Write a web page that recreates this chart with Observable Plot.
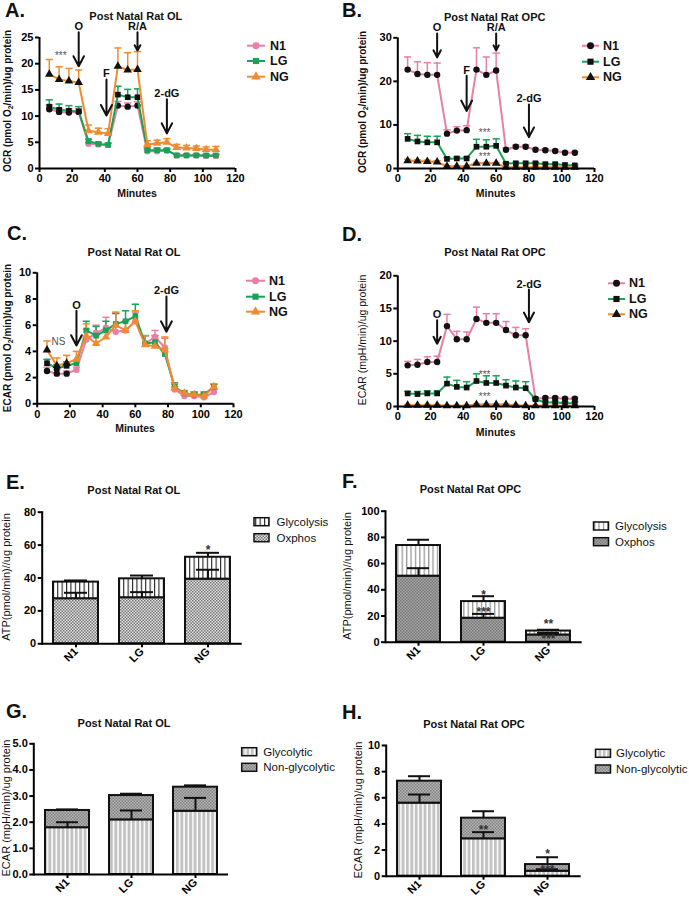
<!DOCTYPE html>
<html><head><meta charset="utf-8">
<script src="https://cdn.jsdelivr.net/npm/d3@7"></script>
<script src="https://cdn.jsdelivr.net/npm/@observablehq/plot@0.6"></script>
<style>
body{margin:0;background:#fff;}
#fig{position:relative;width:689px;height:901px;overflow:hidden;background:#fff;}
</style></head>
<body><div id="fig"></div>
<script>
// ---------- data ----------
const minutes = [6,12,18,24,30,36,42,48,54,60,66,72,78,84,90,96,102,108];
const groups = ["N1","LG","NG"];
const groupColors = ["#e77fa7","#1aa259","#f28b30"];
const groupSymbols = ["circle","square","triangle"];

// A. OCR, post natal rat OL
const ocrOL_N1 = [11.3,10.8,10.7,10.8,4.7,4.6,4.5,12.0,11.8,12.0,3.3,3.3,3.4,2.5,2.5,2.5,2.4,2.4];
const ocrOL_N1_sem = [0.8,0.7,0.7,0.6,0.3,0.3,0.3,0.8,0.7,0.7,0.3,0.3,0.3,0.2,0.2,0.2,0.2,0.2];
const ocrOL_LG = [11.8,11.2,11.0,10.9,5.2,4.7,4.5,14.1,13.6,13.6,3.5,3.5,3.5,2.5,2.5,2.5,2.5,2.5];
const ocrOL_LG_sem = [1.3,1.1,1.0,0.9,0.4,0.3,0.3,1.6,1.5,1.6,0.4,0.4,0.3,0.2,0.2,0.2,0.2,0.2];
const ocrOL_NG = [18.0,17.0,16.7,16.4,7.2,6.9,6.7,19.5,18.8,18.9,4.6,4.8,5.0,4.0,3.9,3.8,3.6,3.6];
const ocrOL_NG_sem = [2.8,2.4,2.4,2.4,1.1,0.8,0.9,3.5,3.3,3.4,0.7,0.6,0.7,0.6,0.5,0.5,0.5,0.6];

// B. OCR, post natal rat OPC
const ocrOPC_N1 = [22.7,21.7,21.5,21.5,8.0,8.7,8.8,22.7,21.5,22.5,4.3,5.0,5.0,4.3,4.2,4.0,3.6,3.6];
const ocrOPC_N1_sem = [2.9,2.8,2.8,2.7,0.9,0.9,1.0,5.0,4.1,4.0,0.4,0.4,0.4,0.3,0.3,0.3,0.3,0.3];
const ocrOPC_LG = [6.8,6.2,6.0,6.0,2.2,2.3,2.3,5.0,5.0,5.2,1.1,1.2,1.2,1.2,1.0,1.0,0.8,0.7];
const ocrOPC_LG_sem = [1.2,1.4,1.4,1.4,0.3,0.3,0.3,1.7,1.6,1.6,0.2,0.2,0.2,0.2,0.2,0.2,0.1,0.1];
const ocrOPC_NG = [1.8,1.7,1.6,1.5,0.5,0.5,0.5,1.2,1.2,1.2,0.3,0.3,0.3,0.3,0.3,0.3,0.3,0.3];
const ocrOPC_NG_sem = [0.3,0.3,0.3,0.3,0.1,0.1,0.1,0.2,0.2,0.2,0.1,0.1,0.1,0.1,0.1,0.1,0.1,0.1];

// C. ECAR, post natal rat OL
const ecarOLt_N1 = [2.5,2.3,2.3,2.6,4.9,5.4,5.8,5.5,5.6,6.3,4.6,5.1,4.3,1.1,0.6,0.6,0.5,0.9];
const ecarOLt_N1_sem = [0.3,0.3,0.2,0.2,0.8,0.6,0.8,1.4,0.7,0.7,0.6,0.5,0.7,0.2,0.2,0.2,0.2,0.2];
const ecarOLt_LG = [3.1,2.7,2.9,3.1,5.6,5.2,5.6,6.1,6.3,6.7,4.6,4.7,3.8,1.3,0.8,0.7,0.7,1.3];
const ecarOLt_LG_sem = [0.3,0.3,0.3,0.2,0.7,0.7,0.7,0.8,0.8,0.9,0.6,0.5,0.4,0.3,0.2,0.2,0.2,0.2];
const ecarOLt_NG = [4.1,2.9,3.1,3.4,5.2,4.6,5.1,6.0,5.6,6.3,4.5,4.4,4.1,1.2,0.8,0.7,0.6,1.3];
const ecarOLt_NG_sem = [0.7,0.6,0.6,0.6,0.9,0.6,0.5,1.0,0.7,0.8,0.7,0.6,1.0,0.3,0.2,0.2,0.2,0.2];

// D. ECAR, post natal rat OPC
const ecarOPCt_N1 = [6.3,6.4,6.8,6.8,12.3,10.3,10.3,13.4,12.8,12.8,11.7,10.9,10.9,1.2,1.3,1.3,1.2,1.2];
const ecarOPCt_N1_sem = [0.6,0.8,0.8,0.9,1.8,1.2,1.1,1.8,1.4,1.4,1.3,1.2,1.0,0.2,0.2,0.2,0.2,0.2];
const ecarOPCt_LG = [2.0,1.9,2.0,2.0,3.5,3.0,2.9,3.9,3.6,3.6,3.2,2.9,2.8,1.1,0.6,0.6,0.5,0.5];
const ecarOPCt_LG_sem = [0.3,0.4,0.4,0.4,1.0,1.0,0.9,1.1,1.1,1.1,0.9,1.0,1.0,0.2,0.2,0.2,0.2,0.2];
const ecarOPCt_NG = [0.2,0.2,0.2,0.2,0.1,0.1,0.1,0.3,0.3,0.3,0.3,0.2,0.1,0.1,0.1,0.1,0.1,0.1];
const ecarOPCt_NG_sem = [0.1,0.1,0.1,0.1,0.1,0.1,0.1,0.1,0.1,0.1,0.1,0.1,0.1,0.1,0.1,0.1,0.1,0.1];

// injections (label, minute, arrow start, arrow tip)
const injA = [{label:"O",x:24,y1:26,y2:19.5},{label:"F",x:41,y1:17,y2:10.1},{label:"R/A",x:60,y1:26,y2:22.5},{label:"2-dG",x:78,y1:13.2,y2:6.7}];
const injB = [{label:"O",x:24,y1:31,y2:25.5},{label:"F",x:42,y1:21.3,y2:13.2},{label:"R/A",x:60,y1:31,y2:27.1},{label:"2-dG",x:80,y1:14.7,y2:7.2}];
const injC = [{label:"O",x:24,y1:7.1,y2:4.45},{label:"2-dG",x:79,y1:8.2,y2:5.5}];
const injD = [{label:"O",x:24,y1:13.2,y2:9.6},{label:"2-dG",x:80,y1:17.9,y2:12.9}];

const notesA = [{x:13,y:21.6,text:"***"}];
const notesB = [{x:53,y:8.2,text:"***"},{x:53,y:2.8,text:"***"}];
const notesC = [{x:13,y:4.75,text:"NS"}];
const notesD = [{x:53,y:4.9,text:"***"},{x:53,y:1.5,text:"***"}];

// E. ATP, OL
const atpOL_oxphos = [27.4,28.0,39.3];
const atpOL_oxphos_sem = [3.6,3.4,5.7];
const atpOL_glycolysis = [10.1,11.5,13.3];
const atpOL_glycolysis_sem = [1.0,2.0,2.7];
// F. ATP, OPC
const atpOPC_oxphos = [50.4,18.3,5.5];
const atpOPC_oxphos_sem = [6.1,3.3,1.5];
const atpOPC_glycolysis = [23.4,12.7,3.0];
const atpOPC_glycolysis_sem = [4.4,4.1,1.0];
// G. ECAR, OL
const ecarOL_glycolytic = [1.79,2.09,2.42];
const ecarOL_glycolytic_sem = [0.21,0.36,0.51];
const ecarOL_nonglycolytic = [0.66,0.93,0.92];
const ecarOL_nonglycolytic_sem = [0.04,0.07,0.07];
// H. ECAR, OPC
const ecarOPC_glycolytic = [5.59,2.86,0.38];
const ecarOPC_glycolytic_sem = [0.66,0.51,0.15];
const ecarOPC_nonglycolytic = [1.68,1.58,0.51];
const ecarOPC_nonglycolytic_sem = [0.38,0.53,0.56];

const notesE = [{g:"NG",y:57,text:"*"}];
const notesF = [{g:"LG",y:35.8,text:"*"},{g:"LG",y:22.6,text:"***"},{g:"NG",y:13.5,text:"**"},{g:"NG",y:2.0,text:"***"}];
const notesG = [];
const notesH = [{g:"LG",y:3.5,text:"**"},{g:"NG",y:1.65,text:"*"},{g:"NG",y:0.45,text:"***"}];

// ---------- drawing ----------
const FONT = '"Liberation Sans", Arial, Helvetica, sans-serif';
const fig = document.getElementById("fig");

// patterns
fig.insertAdjacentHTML("beforeend", `
<svg width="0" height="0" style="position:absolute;left:0;top:0">
<defs>
<pattern id="stripeE" width="4.4" height="10" patternUnits="userSpaceOnUse"><rect width="4.4" height="10" fill="#fff"/><rect width="1.1" height="10" fill="#222"/></pattern>
<pattern id="checkE" width="3" height="3" patternUnits="userSpaceOnUse"><rect width="3" height="3" fill="#e2e2e2"/><rect width="1.5" height="1.5" fill="#777"/><rect x="1.5" y="1.5" width="1.5" height="1.5" fill="#777"/></pattern>
<pattern id="stripeF" width="4.4" height="10" patternUnits="userSpaceOnUse"><rect width="4.4" height="10" fill="#fff"/><rect width="1.3" height="10" fill="#999"/></pattern>
<pattern id="checkF" width="3" height="3" patternUnits="userSpaceOnUse"><rect width="3" height="3" fill="#a4a4a4"/><rect width="1.5" height="1.5" fill="#7a7a7a"/><rect x="1.5" y="1.5" width="1.5" height="1.5" fill="#7a7a7a"/></pattern>
<pattern id="stripeG" width="4.4" height="10" patternUnits="userSpaceOnUse"><rect width="4.4" height="10" fill="#c2c2c2"/><rect x="2.9" width="1.5" height="10" fill="#fff"/></pattern>
<pattern id="checkG" width="3" height="3" patternUnits="userSpaceOnUse"><rect width="3" height="3" fill="#b2b2b2"/><rect width="1.5" height="1.5" fill="#858585"/><rect x="1.5" y="1.5" width="1.5" height="1.5" fill="#858585"/></pattern>
</defs></svg>`);

function mount(node, left, top) {
  const d = document.createElement("div");
  d.style.cssText = `position:absolute;left:${left}px;top:${top}px;`;
  d.appendChild(node);
  fig.appendChild(d);
}
const plotStyle = {fontFamily: FONT, overflow: "visible", background: "transparent"};
const axisText = {fontSize: 11, fontWeight: "bold", tickSize: 4, tickPadding: 2, strokeWidth: 2, label: null};

function linePanel(p) {
  const width = p.fx1 - p.left + 8, height = p.fy1 - p.top + 22;
  const marks = [];
  const rowsOf = s => minutes.map((m, i) => ({x: m, y: s.mean[i], hi: s.mean[i] + s.sem[i], i}));
  p.series.forEach((s, k) => {
    const rows = rowsOf(s);
    marks.push(Plot.ruleX(rows, {x: "x", y1: "y", y2: "hi", stroke: groupColors[k], strokeWidth: 1.5}));
    marks.push(Plot.link(rows, {x1: d => d.x - 2.2, x2: d => d.x + 2.2, y1: "hi", y2: "hi", stroke: groupColors[k], strokeWidth: 1.5}));
  });
  p.series.forEach((s, k) => {
    const rows = rowsOf(s);
    marks.push(Plot.line(rows, {x: "x", y: "y", stroke: groupColors[k], strokeWidth: 2}));
    marks.push(Plot.dot(rows.filter(d => !p.black(d.i)), {x: "x", y: "y", symbol: groupSymbols[k], r: 3.2, fill: groupColors[k]}));
    marks.push(Plot.dot(rows.filter(d => p.black(d.i)), {x: "x", y: "y", symbol: groupSymbols[k], r: 3.2, fill: "#111"}));
  });
  marks.push(
    Plot.arrow(p.inj, {x1: "x", x2: "x", y1: "y1", y2: "y2", stroke: "#111", strokeWidth: 2, headLength: 9, headAngle: 55}),
    Plot.text(p.inj, {x: "x", y: "y1", text: "label", dy: -2, lineAnchor: "bottom", fontSize: 11, fontWeight: "bold", fill: "#111"}),
    Plot.text(p.notes, {x: "x", y: "y", text: "text", fontSize: 10, fill: "#555"}),
    Plot.ruleX([0], {strokeWidth: 2}),
    Plot.ruleY([0], {strokeWidth: 2}),
    Plot.axisX({ticks: d3.range(0, 121, 20), ...axisText}),
    Plot.axisY({ticks: p.yTicks, ...axisText})
  );
  const plot = Plot.plot({
    width, height,
    marginLeft: p.fx0 - p.left, marginTop: p.fy0 - p.top,
    marginRight: width - (p.fx1 - p.left), marginBottom: height - (p.fy1 - p.top),
    x: {domain: [0, 120]},
    y: {domain: p.yDomain},
    style: plotStyle,
    marks
  });
  mount(plot, p.left, p.top);
}

function barPanel(p) {
  const width = p.fx1 - p.left + 10, height = p.fy1 - p.top + 34;
  const lowRows = groups.map((g, i) => ({g, y1: 0, y2: p.lower[i]}));
  const upRows = groups.map((g, i) => ({g, y1: p.lower[i], y2: p.lower[i] + p.upper[i]}));
  const errRows = groups.flatMap((g, i) => [
    {g, y1: p.lower[i], y2: p.lower[i] + p.lowerSem[i]},
    {g, y1: p.lower[i] + p.upper[i], y2: p.lower[i] + p.upper[i] + p.upperSem[i]}
  ]);
  const plot = Plot.plot({
    width, height,
    marginLeft: p.fx0 - p.left, marginTop: p.fy0 - p.top,
    marginRight: width - (p.fx1 - p.left), marginBottom: height - (p.fy1 - p.top),
    x: {type: "band", domain: groups, paddingInner: 0.32, paddingOuter: 0.17},
    y: {domain: p.yDomain},
    style: plotStyle,
    marks: [
      Plot.barY(lowRows, {x: "g", y1: "y1", y2: "y2", fill: p.lowerFill, stroke: "#111", strokeWidth: 2}),
      Plot.barY(upRows, {x: "g", y1: "y1", y2: "y2", fill: p.upperFill, stroke: "#111", strokeWidth: 2}),
      Plot.ruleX(errRows, {x: "g", y1: "y1", y2: "y2", stroke: "#111", strokeWidth: 2}),
      Plot.tickY(errRows, {x: "g", y: "y2", stroke: "#111", strokeWidth: 2, insetLeft: 11, insetRight: 11}),
      Plot.text(p.notes, {x: "g", y: "y", text: "text", fontSize: 12, fontWeight: "bold", fill: "#333"}),
      Plot.ruleY([0], {strokeWidth: 2}),
      Plot.frame({anchor: "left", strokeWidth: 2}),
      Plot.axisY({ticks: p.yTicks, ...axisText}),
      Plot.axisX({tickRotate: -45, ...axisText})
    ]
  });
  mount(plot, p.left, p.top);
}

const ser = (m, s) => ({mean: m, sem: s});
const earlyAndPeak = i => i <= 3 || (i >= 7 && i <= 9);

linePanel({left: 0, top: 20, fx0: 39, fy0: 37, fx1: 235, fy1: 168, yDomain: [0, 25], yTicks: d3.range(0, 26, 5),
  series: [ser(ocrOL_N1, ocrOL_N1_sem), ser(ocrOL_LG, ocrOL_LG_sem), ser(ocrOL_NG, ocrOL_NG_sem)],
  black: earlyAndPeak, inj: injA, notes: notesA});
linePanel({left: 340, top: 20, fx0: 397.3, fy0: 37.3, fx1: 594, fy1: 168, yDomain: [0, 30], yTicks: d3.range(0, 31, 10),
  series: [ser(ocrOPC_N1, ocrOPC_N1_sem), ser(ocrOPC_LG, ocrOPC_LG_sem), ser(ocrOPC_NG, ocrOPC_NG_sem)],
  black: () => true, inj: injB, notes: notesB});
linePanel({left: 0, top: 250, fx0: 36.7, fy0: 272.3, fx1: 233, fy1: 403.3, yDomain: [0, 10], yTicks: d3.range(0, 11, 2),
  series: [ser(ecarOLt_N1, ecarOLt_N1_sem), ser(ecarOLt_LG, ecarOLt_LG_sem), ser(ecarOLt_NG, ecarOLt_NG_sem)],
  black: i => i <= 2, inj: injC, notes: notesC});
linePanel({left: 340, top: 250, fx0: 397.3, fy0: 275.3, fx1: 594, fy1: 406, yDomain: [0, 20], yTicks: d3.range(0, 21, 5),
  series: [ser(ecarOPCt_N1, ecarOPCt_N1_sem), ser(ecarOPCt_LG, ecarOPCt_LG_sem), ser(ecarOPCt_NG, ecarOPCt_NG_sem)],
  black: () => true, inj: injD, notes: notesD});

barPanel({left: 0, top: 495, fx0: 41.7, fy0: 511.7, fx1: 241.7, fy1: 643.3, yDomain: [0, 80], yTicks: d3.range(0, 81, 20),
  lower: atpOL_oxphos, lowerSem: atpOL_oxphos_sem, upper: atpOL_glycolysis, upperSem: atpOL_glycolysis_sem,
  lowerFill: "url(#checkE)", upperFill: "url(#stripeE)", notes: notesE});
barPanel({left: 340, top: 495, fx0: 385, fy0: 510.7, fx1: 581.7, fy1: 641.7, yDomain: [0, 100], yTicks: d3.range(0, 101, 20),
  lower: atpOPC_oxphos, lowerSem: atpOPC_oxphos_sem, upper: atpOPC_glycolysis, upperSem: atpOPC_glycolysis_sem,
  lowerFill: "url(#checkF)", upperFill: "url(#stripeF)", notes: notesF});
barPanel({left: 0, top: 730, fx0: 33.3, fy0: 743.3, fx1: 228, fy1: 874, yDomain: [0, 5], yTicks: d3.range(0, 6, 1),
  lower: ecarOL_glycolytic, lowerSem: ecarOL_glycolytic_sem, upper: ecarOL_nonglycolytic, upperSem: ecarOL_nonglycolytic_sem,
  lowerFill: "url(#stripeG)", upperFill: "url(#checkG)", notes: notesG});
barPanel({left: 340, top: 730, fx0: 385.7, fy0: 745, fx1: 580.7, fy1: 875.7, yDomain: [0, 10], yTicks: d3.range(0, 11, 2),
  lower: ecarOPC_glycolytic, lowerSem: ecarOPC_glycolytic_sem, upper: ecarOPC_nonglycolytic, upperSem: ecarOPC_nonglycolytic_sem,
  lowerFill: "url(#stripeG)", upperFill: "url(#checkG)", notes: notesH});

// ---------- overlay texts & legends ----------
const ov = d3.select(fig).append("svg").attr("width", 689).attr("height", 901)
  .style("position", "absolute").style("left", "0px").style("top", "0px")
  .style("pointer-events", "none").style("font-family", FONT);

function txt(parts, x, y, {size = 11, weight = "bold", anchor = "middle", rotate = 0, fill = "#111"} = {}) {
  const t = ov.append("text").attr("transform", `translate(${x},${y}) rotate(${rotate})`)
    .attr("text-anchor", anchor).attr("dominant-baseline", "central")
    .attr("font-size", size).attr("font-weight", weight).attr("fill", fill);
  if (typeof parts === "string") { t.text(parts); return; }
  parts.forEach(pt => {
    const s = t.append("tspan").text(pt.t);
    if (pt.sub) s.attr("font-size", size * 0.7).attr("dy", size * 0.3);
    if (pt.after) s.attr("dy", -size * 0.3);
  });
}

const letters = [["A.",5,10],["B.",342,10],["C.",7,233],["D.",342,234],["E.",6,482],["F.",342,481],["G.",6,710.5],["H.",342,711.5]];
letters.forEach(([s, x, y]) => txt(s, x, y, {size: 20, anchor: "start"}));

const titles = [["Post Natal Rat OL",135.8,15.7],["Post Natal Rat OPC",494.7,16.7],["Post Natal Rat OL",134,251.7],["Post Natal Rat OPC",495,252.3],
  ["Post Natal Rat OL",133.8,490],["Post Natal Rat OPC",470.5,489.3],["Post Natal Rat OL",124,723.3],["Post Natal Rat OPC",474,724]];
titles.forEach(([s, x, y]) => txt(s, x, y, {size: 11}));

const ocrLabel = [{t: "OCR (pmol O"}, {t: "2", sub: true}, {t: "/min)/ug protein", after: true}];
const ecarO2Label = [{t: "ECAR (pmol O"}, {t: "2", sub: true}, {t: "/min)/ug protein", after: true}];
txt(ocrLabel, 7, 101, {size: 10, rotate: -90});
txt(ocrLabel, 362, 102, {size: 10, rotate: -90});
txt(ecarO2Label, 7, 338, {size: 10, rotate: -90});
txt("ECAR (mpH/min)/ug protein", 361.5, 340, {size: 10.5, rotate: -90, weight: "normal"});
txt("ATP(pmol/min)//ug protein", 6, 577, {size: 11, rotate: -90, weight: "normal"});
txt("ATP(pmol/min)//ug protein", 347, 576, {size: 11, rotate: -90, weight: "normal"});
txt("ECAR (mpH/min)/ug protein", 6, 808, {size: 11, rotate: -90, weight: "normal"});
txt("ECAR (mpH/min)/ug protein", 358, 810, {size: 11, rotate: -90, weight: "normal"});

[[137,193],[495.7,193],[135,428],[495.7,432]].forEach(([x, y]) => txt("Minutes", x, y, {size: 10.5}));

const symbolTypes = [d3.symbolCircle, d3.symbolSquare, d3.symbolTriangle];
function lineLegend(x0, x1, tx, ys, blackMarkers) {
  groups.forEach((g, k) => {
    const y = ys[k];
    ov.append("line").attr("x1", x0).attr("x2", x1).attr("y1", y).attr("y2", y).attr("stroke", groupColors[k]).attr("stroke-width", 2);
    ov.append("path").attr("d", d3.symbol(symbolTypes[k], 38)()).attr("transform", `translate(${(x0 + x1) / 2},${y})`)
      .attr("fill", blackMarkers ? "#111" : groupColors[k]);
    txt(g, tx, y, {size: 12.5, anchor: "start"});
  });
}
lineLegend(247, 265, 270, [45.7, 61, 76.7], false);
lineLegend(582, 599, 603, [45.7, 61.7, 77.3], true);
lineLegend(246, 265, 269, [280.7, 296.7, 311.7], false);
lineLegend(608, 625, 629, [283.3, 299, 314.3], true);

function barLegend(x0, tx, ys, labels, fills) {
  labels.forEach((s, k) => {
    ov.append("rect").attr("x", x0).attr("y", ys[k] - 4).attr("width", 15).attr("height", 8)
      .attr("fill", fills[k]).attr("stroke", "#111").attr("stroke-width", 1.5);
    txt(s, tx, ys[k], {size: 11.5, anchor: "start", weight: "normal"});
  });
}
barLegend(254, 276.5, [521.7, 537.7], ["Glycolysis", "Oxphos"], ["url(#stripeE)", "url(#checkE)"]);
barLegend(593.5, 615, [526, 541.7], ["Glycolysis", "Oxphos"], ["url(#stripeF)", "url(#checkF)"]);
barLegend(241.7, 263.3, [751.7, 767.3], ["Glycolytic", "Non-glycolytic"], ["url(#stripeG)", "url(#checkG)"]);
barLegend(595.5, 616, [753.3, 769], ["Glycolytic", "Non-glycolytic"], ["url(#stripeG)", "url(#checkG)"]);
</script>
</body></html>
